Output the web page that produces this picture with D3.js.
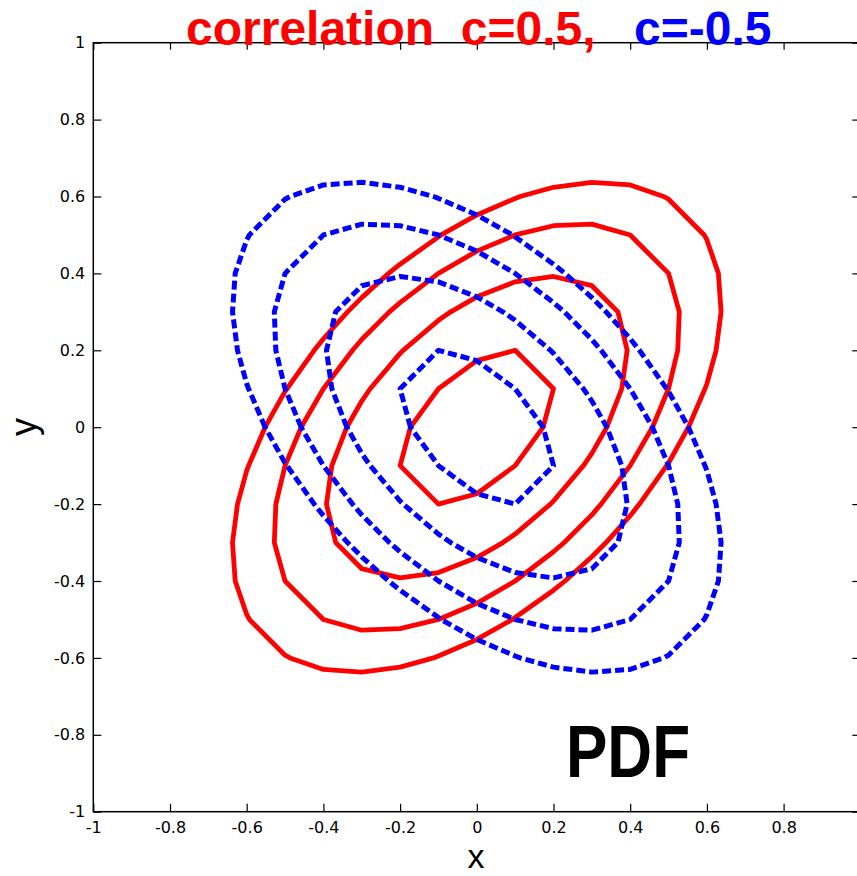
<!DOCTYPE html>
<html>
<head>
<meta charset="utf-8">
<script src="https://cdn.jsdelivr.net/npm/d3@7"></script>
<style>
  body { margin: 0; background: #fff; }
  svg { display: block; }
</style>
</head>
<body>
<div id="chart"></div>
<script>
// contour vertices [x, y]
const redInner = [[0.173,0],[0.2,0.1],[0.1,0.2],[0,0.173],[-0.1,0.1],[-0.173,0],[-0.2,-0.1],[-0.1,-0.2],[0,-0.173],[0.1,-0.1]];
const redMid = [[0.339,0],[0.378,0.1],[0.392,0.2],[0.368,0.3],[0.3,0.368],[0.2,0.392],[0.1,0.378],[0,0.339],[-0.068,0.3],[-0.1,0.278],[-0.192,0.2],[-0.2,0.192],[-0.278,0.1],[-0.3,0.068],[-0.339,0],[-0.378,-0.1],[-0.392,-0.2],[-0.368,-0.3],[-0.3,-0.368],[-0.2,-0.392],[-0.1,-0.378],[0,-0.339],[0.068,-0.3],[0.1,-0.278],[0.192,-0.2],[0.2,-0.192],[0.278,-0.1],[0.3,-0.068]];
const redWide = [[0.458,0],[0.5,0.1],[0.524,0.2],[0.528,0.3],[0.5,0.4],[0.4,0.5],[0.3,0.528],[0.2,0.524],[0.1,0.5],[0,0.458],[-0.1,0.4],[-0.2,0.324],[-0.228,0.3],[-0.3,0.228],[-0.324,0.2],[-0.4,0.1],[-0.458,0],[-0.5,-0.1],[-0.524,-0.2],[-0.528,-0.3],[-0.5,-0.4],[-0.4,-0.5],[-0.3,-0.528],[-0.2,-0.524],[-0.1,-0.5],[0,-0.458],[0.1,-0.4],[0.2,-0.324],[0.228,-0.3],[0.3,-0.228],[0.324,-0.2],[0.4,-0.1]];
const redOuter = [[0.552,0],[0.595,0.1],[0.6,0.113],[0.624,0.2],[0.637,0.3],[0.63,0.4],[0.6,0.487],[0.593,0.5],[0.5,0.593],[0.487,0.6],[0.4,0.63],[0.3,0.637],[0.2,0.624],[0.113,0.6],[0.1,0.595],[0,0.552],[-0.093,0.5],[-0.1,0.495],[-0.2,0.424],[-0.23,0.4],[-0.3,0.337],[-0.337,0.3],[-0.4,0.23],[-0.424,0.2],[-0.495,0.1],[-0.5,0.093],[-0.552,0],[-0.595,-0.1],[-0.6,-0.113],[-0.624,-0.2],[-0.637,-0.3],[-0.63,-0.4],[-0.6,-0.487],[-0.593,-0.5],[-0.5,-0.593],[-0.487,-0.6],[-0.4,-0.63],[-0.3,-0.637],[-0.2,-0.624],[-0.113,-0.6],[-0.1,-0.595],[0,-0.552],[0.093,-0.5],[0.1,-0.495],[0.2,-0.424],[0.23,-0.4],[0.3,-0.337],[0.337,-0.3],[0.4,-0.23],[0.424,-0.2],[0.495,-0.1],[0.5,-0.093]];

const blueInner = [[-0.173,0],[-0.2,0.1],[-0.1,0.2],[0,0.173],[0.1,0.1],[0.173,0],[0.2,-0.1],[0.1,-0.2],[0,-0.173],[-0.1,-0.1]];
const blueMid = [[-0.339,0],[-0.378,0.1],[-0.392,0.2],[-0.368,0.3],[-0.3,0.368],[-0.2,0.392],[-0.1,0.378],[0,0.339],[0.068,0.3],[0.1,0.278],[0.192,0.2],[0.2,0.192],[0.278,0.1],[0.3,0.068],[0.339,0],[0.378,-0.1],[0.392,-0.2],[0.368,-0.3],[0.3,-0.368],[0.2,-0.392],[0.1,-0.378],[0,-0.339],[-0.068,-0.3],[-0.1,-0.278],[-0.192,-0.2],[-0.2,-0.192],[-0.278,-0.1],[-0.3,-0.068]];
const blueWide = [[-0.458,0],[-0.5,0.1],[-0.524,0.2],[-0.528,0.3],[-0.5,0.4],[-0.4,0.5],[-0.3,0.528],[-0.2,0.524],[-0.1,0.5],[0,0.458],[0.1,0.4],[0.2,0.324],[0.228,0.3],[0.3,0.228],[0.324,0.2],[0.4,0.1],[0.458,0],[0.5,-0.1],[0.524,-0.2],[0.528,-0.3],[0.5,-0.4],[0.4,-0.5],[0.3,-0.528],[0.2,-0.524],[0.1,-0.5],[0,-0.458],[-0.1,-0.4],[-0.2,-0.324],[-0.228,-0.3],[-0.3,-0.228],[-0.324,-0.2],[-0.4,-0.1]];
const blueOuter = [[-0.552,0],[-0.595,0.1],[-0.6,0.113],[-0.624,0.2],[-0.637,0.3],[-0.63,0.4],[-0.6,0.487],[-0.593,0.5],[-0.5,0.593],[-0.487,0.6],[-0.4,0.63],[-0.3,0.637],[-0.2,0.624],[-0.113,0.6],[-0.1,0.595],[0,0.552],[0.093,0.5],[0.1,0.495],[0.2,0.424],[0.23,0.4],[0.3,0.337],[0.337,0.3],[0.4,0.23],[0.424,0.2],[0.495,0.1],[0.5,0.093],[0.552,0],[0.595,-0.1],[0.6,-0.113],[0.624,-0.2],[0.637,-0.3],[0.63,-0.4],[0.6,-0.487],[0.593,-0.5],[0.5,-0.593],[0.487,-0.6],[0.4,-0.63],[0.3,-0.637],[0.2,-0.624],[0.113,-0.6],[0.1,-0.595],[0,-0.552],[-0.093,-0.5],[-0.1,-0.495],[-0.2,-0.424],[-0.23,-0.4],[-0.3,-0.337],[-0.337,-0.3],[-0.4,-0.23],[-0.424,-0.2],[-0.495,-0.1],[-0.5,-0.093]];

const tickValues = [-1, -0.8, -0.6, -0.4, -0.2, 0, 0.2, 0.4, 0.6, 0.8, 1];
// x=1 sits on the window edge, its label is not drawn
const xLabelValues = [-1, -0.8, -0.6, -0.4, -0.2, 0, 0.2, 0.4, 0.6, 0.8];

let width = 857,
  height = 876;

const svg = d3.select('#chart').append('svg')
  .attr('width', width)
  .attr('height', height);

const x = d3.scaleLinear().domain([-1, 1]).range([93.3, 860.3]);
const y = d3.scaleLinear().domain([-1, 1]).range([811.7, 42.7]);

const fmt = (d) => String(+d.toFixed(1));
const xFmt = (d) => xLabelValues.includes(d) ? fmt(d) : '';

function styleAxis(g) {
  g.select('.domain').remove();
  g.selectAll('.tick line').attr('stroke', '#000').attr('stroke-width', 1.2);
  g.selectAll('.tick text')
    .attr('fill', '#000')
    .style('font-family', '"DejaVu Sans", sans-serif')
    .style('font-size', '16px');
}

// bottom axis, ticks pointing in
svg.append('g')
    .attr('transform', `translate(0,${y(-1)})`)
    .call(d3.axisBottom(x).tickValues(tickValues).tickFormat(xFmt).tickSizeInner(-8).tickSizeOuter(0).tickPadding(10))
    .call(styleAxis);

// top axis, no labels
svg.append('g')
    .attr('transform', `translate(0,${y(1)})`)
    .call(d3.axisTop(x).tickValues(tickValues).tickFormat('').tickSizeInner(-7).tickSizeOuter(0))
    .call(styleAxis);

// left axis
svg.append('g')
    .attr('transform', `translate(${x(-1)},0)`)
    .call(d3.axisLeft(y).tickValues(tickValues).tickFormat(fmt).tickSizeInner(-8).tickSizeOuter(0).tickPadding(8))
    .call(styleAxis);

// right axis
svg.append('g')
    .attr('transform', `translate(${x(1)},0)`)
    .call(d3.axisRight(y).tickValues(tickValues).tickFormat('').tickSizeInner(-8).tickSizeOuter(0))
    .call(styleAxis);

// box
svg.append('rect')
    .attr('x', x(-1))
    .attr('y', y(1))
    .attr('width', x(1) - x(-1))
    .attr('height', y(-1) - y(1))
    .attr('fill', 'none')
    .attr('stroke', '#000')
    .attr('stroke-width', 1.5);

const line = d3.line()
    .x((d) => x(d[0]))
    .y((d) => y(d[1]))
    .curve(d3.curveLinearClosed);

svg.append('g')
  .selectAll('path')
  .data([redInner, redMid, redWide, redOuter])
  .enter().append('path')
    .attr('d', line)
    .attr('fill', 'none')
    .attr('stroke', '#ff0000')
    .attr('stroke-width', 4.8)
    .attr('stroke-linejoin', 'round');

svg.append('g')
  .selectAll('path')
  .data([blueInner, blueMid, blueWide, blueOuter])
  .enter().append('path')
    .attr('d', line)
    .attr('fill', 'none')
    .attr('stroke', '#0000ff')
    .attr('stroke-width', 5)
    .attr('stroke-dasharray', '9,4')
    .attr('stroke-linejoin', 'round');

// title
const title = svg.append('g')
    .style('font-family', '"Liberation Sans", Arial, sans-serif')
    .style('font-weight', 'bold')
    .style('font-size', '48px');

title.append('text')
    .attr('x', 186)
    .attr('y', 45)
    .attr('fill', '#ff0000')
    .attr('xml:space', 'preserve')
    .text('correlation  c=0.5,');

title.append('text')
    .attr('x', 634)
    .attr('y', 45)
    .attr('fill', '#0000ff')
    .text('c=-0.5');

svg.append('text')
    .attr('x', 566)
    .attr('y', 777)
    .attr('textLength', 124)
    .attr('lengthAdjust', 'spacingAndGlyphs')
    .style('font-family', '"Liberation Sans", Arial, sans-serif')
    .style('font-weight', 'bold')
    .style('font-size', '75px')
    .text('PDF');

// axis labels
svg.append('text')
    .attr('x', 476)
    .attr('y', 868)
    .attr('text-anchor', 'middle')
    .style('font-family', '"Liberation Sans", Arial, sans-serif')
    .style('font-size', '34px')
    .text('x');

svg.append('text')
    .attr('transform', 'translate(36,427) rotate(-90)')
    .attr('text-anchor', 'middle')
    .style('font-family', '"Liberation Sans", Arial, sans-serif')
    .style('font-size', '36px')
    .text('y');
</script>
</body>
</html>
